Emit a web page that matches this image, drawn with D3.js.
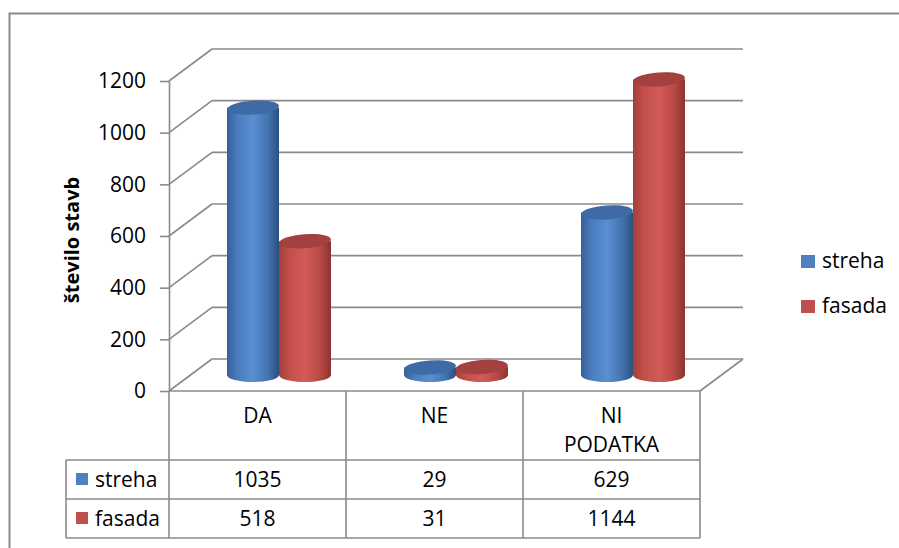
<!DOCTYPE html>
<html>
<head>
<meta charset="utf-8">
<script src="https://cdn.jsdelivr.net/npm/d3@7"></script>
<style>
  html, body { margin: 0; padding: 0; background: #fff; }
  svg { display: block; font-family: "Open Sans", sans-serif; }
</style>
</head>
<body>
<svg id="chart" width="899" height="548"></svg>
<script>
const categories = ["DA", "NE", "NI PODATKA"];
const seriesNames = ["streha", "fasada"];
const streha = [1035, 29, 629];
const fasada = [518, 31, 1144];
const yTicks = [0, 200, 400, 600, 800, 1000, 1200];
const yTitle = "število stavb";

const seriesValues = { streha: streha, fasada: fasada };
const colors = { streha: "#4f81bd", fasada: "#c0504d" };

const svg = d3.select("#chart");
const grid = "#8a8a8a";
const FONT = "'Open Sans', sans-serif";

// outer chart frame
svg.append("rect").attr("x", 9.5).attr("y", 13.5).attr("width", 900).attr("height", 600)
  .attr("fill", "none").attr("stroke", "#8a8a8a").attr("stroke-width", 2);

const x = d3.scaleBand().domain(categories).range([169, 700]).padding(0);
const y = d3.scaleLinear().domain([0, 1200]).range([391, 81]);
const xs = d3.scaleBand().domain(seriesNames).range([-52, 52]);
const DX = 43, DY = -32;
const x0 = x.range()[0], x1 = x.range()[1];

// gradients
const defs = svg.append("defs");
const grads = {
  streha: [["0%", "#35609a"], ["20%", "#4a7cbd"], ["50%", "#5a8fd2"], ["80%", "#4272ae"], ["100%", "#2c4f7e"]],
  fasada: [["0%", "#a23f3c"], ["20%", "#c24f4b"], ["50%", "#d35b57"], ["80%", "#b74845"], ["100%", "#8a3330"]]
};
Object.keys(grads).forEach(k => {
  const g = defs.append("linearGradient").attr("id", "g-" + k).attr("x1", "0").attr("x2", "1").attr("y1", "0").attr("y2", "0");
  grads[k].forEach(s => g.append("stop").attr("offset", s[0]).attr("stop-color", s[1]));
});
const topColors = { streha: "#3e6ba5", fasada: "#a3413e" };

// back wall gridlines + side wall diagonals
const gg = svg.append("g").attr("stroke", grid).attr("stroke-width", 1.6).attr("fill", "none");
yTicks.forEach(v => {
  gg.append("line").attr("x1", x0 + DX).attr("x2", x1 + DX).attr("y1", y(v) + DY).attr("y2", y(v) + DY);
  gg.append("line").attr("x1", x0).attr("x2", x0 + DX).attr("y1", y(v)).attr("y2", y(v) + DY);
});
// floor right edge
gg.append("line").attr("x1", x1).attr("y1", y(0)).attr("x2", x1 + DX).attr("y2", y(0) + DY);

// axis
const axis = d3.axisLeft(y).tickValues(yTicks).tickFormat(d3.format("d")).tickSize(9).tickSizeOuter(0).tickPadding(14);
const ag = svg.append("g").attr("transform", `translate(${x0},0)`).call(axis);
ag.selectAll("path, line").attr("stroke", grid).attr("stroke-width", 1.6);
ag.selectAll("text").attr("font-family", FONT).attr("font-size", 21).attr("fill", "#000");

// y title
svg.append("text").attr("transform", "translate(79,240) rotate(-90)")
  .attr("text-anchor", "middle").attr("font-weight", "bold").attr("font-size", 20).text(yTitle);

// cylinders
const RX = 26, RY = 7;
const base = y(0) + DY / 2;
const cyl = svg.append("g");
categories.forEach((c, i) => {
  const cc = x(c) + x.bandwidth() / 2 + DX / 2;
  seriesNames.forEach(s => {
    const v = seriesValues[s][i];
    const cx = cc + xs(s) + xs.bandwidth() / 2;
    const top = y(v) + DY / 2;
    cyl.append("path")
      .attr("d", `M${cx - RX},${top} L${cx - RX},${base} A${RX},${RY} 0 0 0 ${cx + RX},${base} L${cx + RX},${top} Z`)
      .attr("fill", `url(#g-${s})`);
    cyl.append("ellipse").attr("cx", cx).attr("cy", top).attr("rx", RX).attr("ry", RY)
      .attr("transform", `rotate(-4,${cx},${top})`)
      .attr("fill", topColors[s]);
  });
});

// data table
const rows = [391, 460, 499, 538];
const tg = svg.append("g").attr("stroke", grid).attr("stroke-width", 1.6);
tg.append("line").attr("x1", x0).attr("x2", x1).attr("y1", rows[0]).attr("y2", rows[0]);
[rows[1], rows[2], rows[3]].forEach(r => tg.append("line").attr("x1", 66).attr("x2", x1).attr("y1", r).attr("y2", r));
tg.append("line").attr("x1", 66).attr("x2", 66).attr("y1", rows[1]).attr("y2", rows[3]);
[x0].concat(categories.map(c => x(c) + x.bandwidth())).forEach(xx =>
  tg.append("line").attr("x1", xx).attr("x2", xx).attr("y1", rows[0]).attr("y2", rows[3]));

const fs = 21;
categories.forEach(c => {
  const words = c.split(" ");
  const t = svg.append("text").attr("text-anchor", "middle").attr("font-size", fs).attr("fill", "#000");
  words.forEach((w, k) => t.append("tspan").attr("x", x(c) + x.bandwidth() / 2).attr("y", 423 + k * 29).text(w));
});
seriesNames.forEach((s, j) => {
  const by = j === 0 ? 487 : 526;
  svg.append("rect").attr("x", 76).attr("y", by - 14).attr("width", 12).attr("height", 12).attr("fill", colors[s]);
  svg.append("text").attr("x", 95).attr("y", by).attr("font-size", fs).text(s);
  categories.forEach((c, i) => {
    svg.append("text").attr("x", x(c) + x.bandwidth() / 2).attr("y", by).attr("text-anchor", "middle")
      .attr("font-size", fs).text(seriesValues[s][i]);
  });
});

// legend
seriesNames.forEach((s, j) => {
  const ly = 268 + j * 45;
  svg.append("rect").attr("x", 801).attr("y", ly - 13).attr("width", 14).attr("height", 13).attr("fill", colors[s]);
  svg.append("text").attr("x", 822).attr("y", ly).attr("font-size", fs).text(s);
});
</script>
</body>
</html>
